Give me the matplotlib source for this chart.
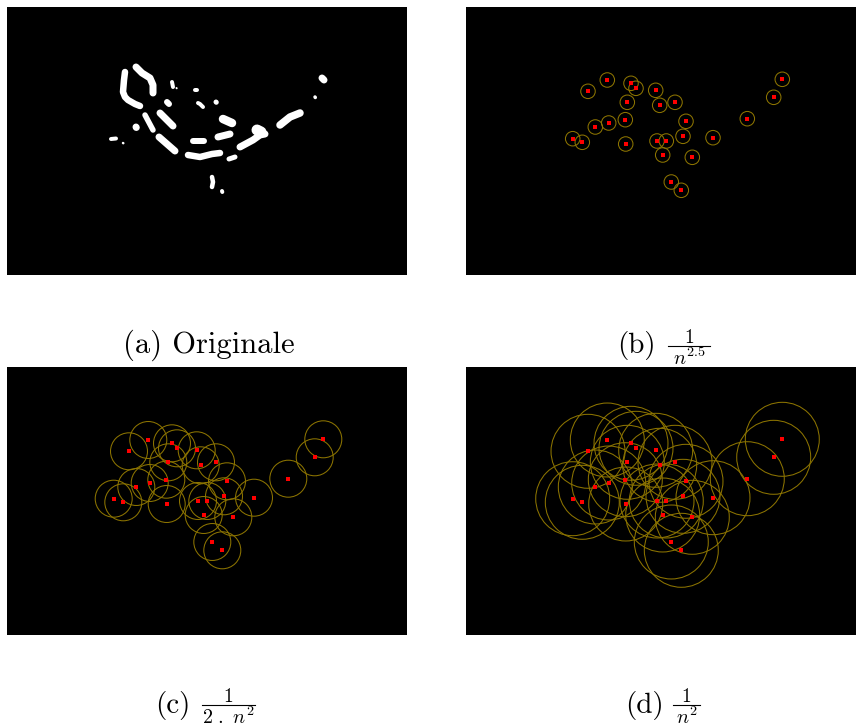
import matplotlib
matplotlib.use("Agg")
import matplotlib.pyplot as plt
import numpy as np
from matplotlib.patches import Circle
from matplotlib.lines import Line2D

plt.rcParams['font.family'] = 'serif'
plt.rcParams['font.serif'] = ['cmr10']
plt.rcParams['mathtext.fontset'] = 'cm'

# image size of each panel (pixels)
W, H = 400, 268

# detected centres (pixel coords inside the image)
cx = [141.3, 122, 165, 170, 189.7, 161.3, 193.7, 209, 159.3, 142.7, 129.3, 106.7, 116.3,
      159.7, 191, 200.3, 196.7, 217, 220, 247, 226.3, 205.3, 215.3, 281.3, 307.7, 316.3]
cy = [73, 84.3, 76.3, 81.3, 83.3, 95.3, 98.3, 95.3, 112.7, 116, 120, 131.7, 135.3,
      137, 134, 134, 148, 129.3, 114.3, 130.7, 150.3, 175, 183.3, 111.7, 90.3, 72.3]
n = len(cx)

# white blobs of the original binary image: (x points, y points, thickness px)
blobs = [
    ([118, 117, 116, 118, 121, 128, 133], [65, 73, 85, 90, 93, 97, 99], 6.5),
    ([129, 135, 143, 146, 146], [60, 66, 71, 78, 86], 7),
    ([165, 166], [75, 80], 4),
    ([169.5, 169.7], [81, 81.3], 2),
    ([160, 162], [95, 97], 6),
    ([153, 166], [106, 119], 7),
    ([138, 146], [108, 123], 5.5),
    ([129, 129.3], [120, 120.5], 7),
    ([104, 109], [132, 131.5], 4),
    ([116, 116.3], [136, 136.2], 2.5),
    ([152, 168], [130, 144], 7),
    ([186, 197], [134, 134], 6),
    ([181, 193, 205, 213], [148, 150, 147, 146], 6.5),
    ([205, 206, 205], [170, 175, 180], 4.5),
    ([215, 215.3], [184, 185], 4),
    ([188, 190], [83, 83], 4),
    ([191, 193, 196], [96, 97, 100], 4),
    ([209, 209.3], [95, 95.3], 5),
    ([216, 225], [112, 116], 8.5),
    ([211, 223], [130, 127], 7),
    ([228, 222], [150, 152], 5),
    ([233, 246, 253, 258], [140, 133, 128, 127], 7),
    ([250, 254], [123, 125], 11),
    ([273, 283, 293], [118, 110, 106], 7.5),
    ([315, 317], [71, 73], 7),
    ([308, 308.3], [90, 90.5], 3.5),
]

# radius factor, label, denominator per panel
panels = [
    ("b", 1 / n ** 2.5, "(b)", r"$n^{2.5}$", 466, 7),
    ("c", 1 / (2 * n ** 2), "(c)", r"$2\ .\ n^{2}$", 7, 367),
    ("d", 1 / n ** 2, "(d)", r"$n^{2}$", 466, 367),
]
scale = 25000.0

# caption layout (figure pixels): label left x, baseline y, fraction bar x0, x1, y
cap_pos = {
    "b": (617, 353, 668, 710, 346),
    "c": (155, 713, 202, 255, 705),
    "d": (625, 713, 673, 700, 705),
}

FW, FH = 856, 726
fig = plt.figure(figsize=(FW / 100, FH / 100), dpi=100)
fig.patch.set_facecolor('white')


def make_ax(x0, y0):
    ax = fig.add_axes([x0 / FW, 1 - (y0 + H) / FH, W / FW, H / FH])
    ax.set_facecolor('black')
    ax.set_xlim(0, W)
    ax.set_ylim(H, 0)
    ax.set_xticks([])
    ax.set_yticks([])
    for s in ax.spines.values():
        s.set_visible(False)
    return ax


def frac(x0, x1, y, den):
    fig.add_artist(Line2D([x0 / FW, x1 / FW], [1 - y / FH, 1 - y / FH],
                          transform=fig.transFigure, color='black', lw=0.8))
    xm = (x0 + x1) / 2 / FW
    fig.text(xm, 1 - (y - 3) / FH, r"$1$", ha='center', va='baseline', fontsize=14)
    fig.text(xm, 1 - (y + 1) / FH, den, ha='center', va='top', fontsize=14.5)


# (a) original
ax = make_ax(7, 7)
for xs, ys, w in blobs:
    ax.plot(xs, ys, color='white', lw=w * 0.72, solid_capstyle='round',
            solid_joinstyle='round')
fig.text(123 / FW, 1 - 353 / FH, "(a) Originale", ha='left', va='baseline', fontsize=22)

for name, f, lab, den, x0, y0 in panels:
    ax = make_ax(x0, y0)
    r = scale * f
    for x, y in zip(cx, cy):
        ax.add_patch(Circle((x, y), r, fill=False, ec='#8c7400', lw=0.75))
    ax.plot(cx, cy, 's', color='red', ms=2.8, mew=0)
    lx, ly, bx0, bx1, by = cap_pos[name]
    fig.text(lx / FW, 1 - ly / FH, lab, ha='left', va='baseline', fontsize=21)
    frac(bx0, bx1, by, den)

fig.savefig("out.png", dpi=100)
